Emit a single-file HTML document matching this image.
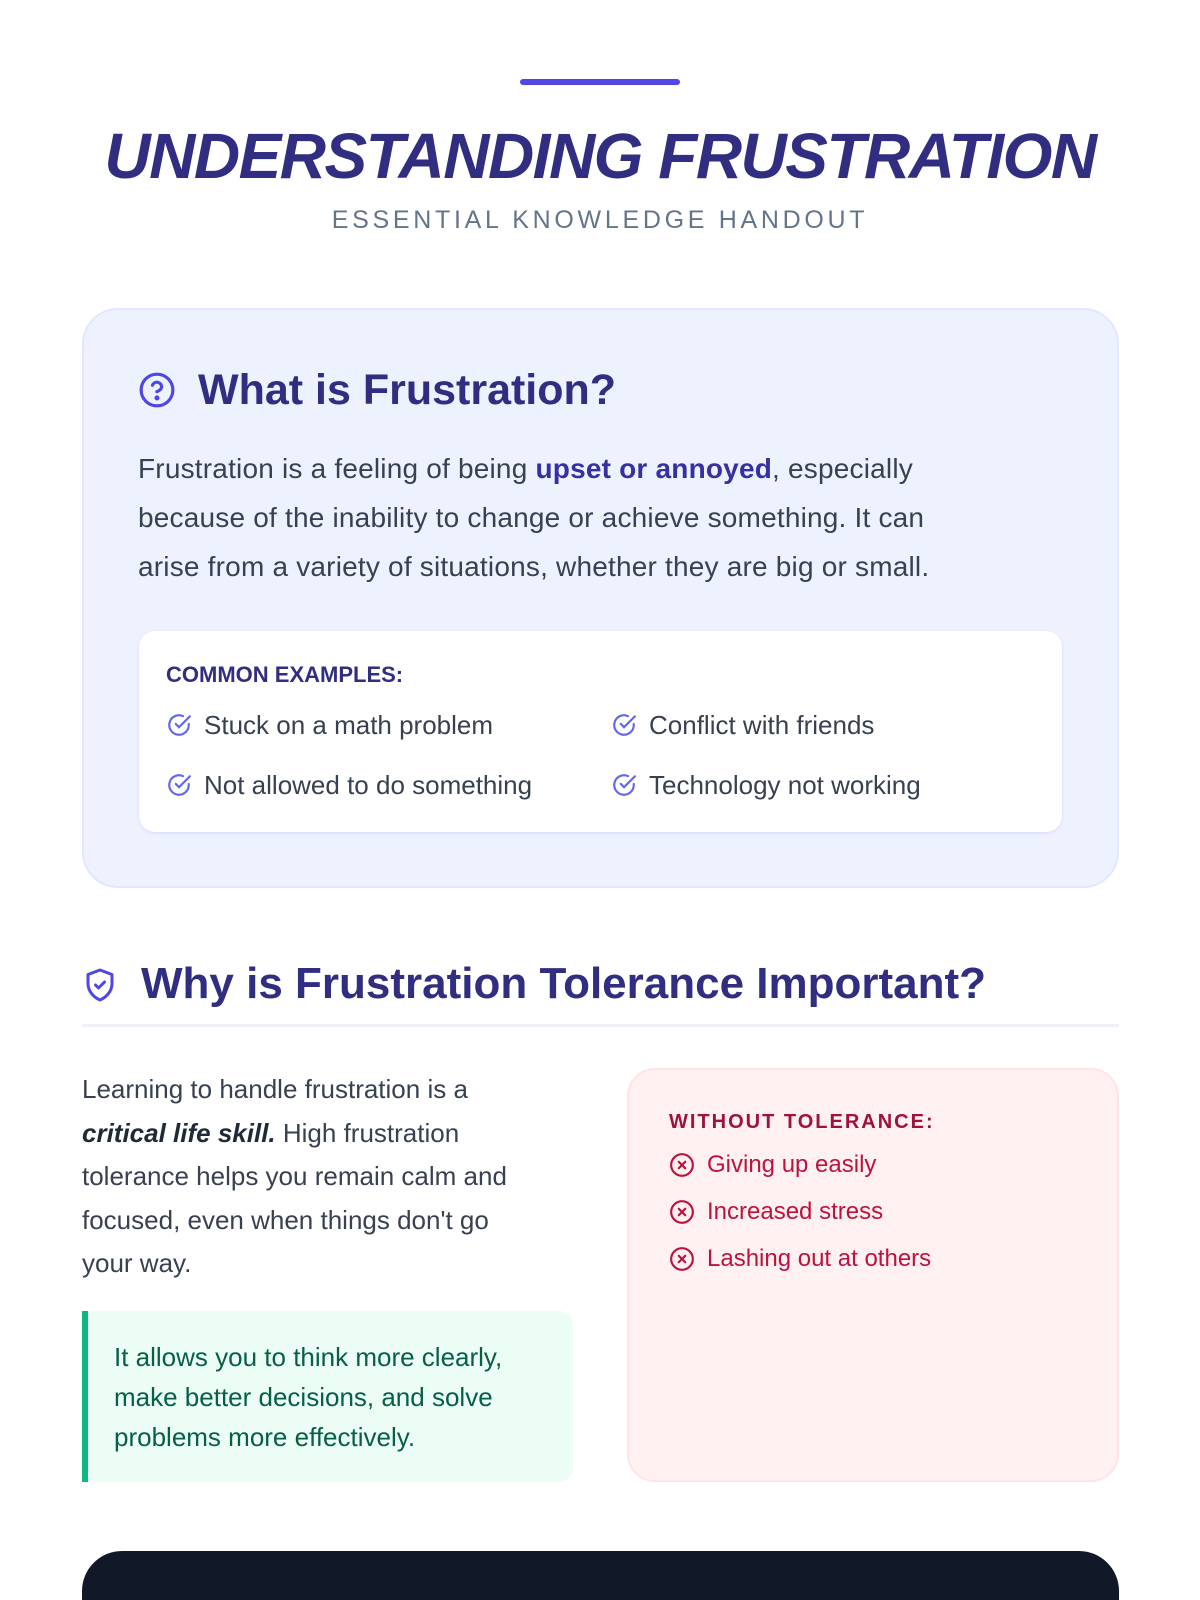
<!DOCTYPE html>
<html><head><meta charset="utf-8"><style>
*{margin:0;padding:0;box-sizing:border-box}
html,body{width:1200px;height:1600px;overflow:hidden}
body{background:#fff;font-family:"Liberation Sans",sans-serif;position:relative}
.a{position:absolute}
.bar{left:520px;top:79px;width:160px;height:6px;border-radius:3px;background:#4f46e5}
.title{left:0;width:1200px;top:118px;text-align:center;font-size:64px;font-weight:bold;font-style:italic;color:#312e81;letter-spacing:-1.5px;line-height:76px}
.sub{left:0;width:1200px;top:205px;text-align:center;font-size:25px;letter-spacing:3.7px;color:#64748b;line-height:30px}
.card{left:82px;top:308px;width:1037px;height:580px;border-radius:36px;background:#eef2ff;border:2px solid #e0e7ff}
.h2{font-weight:bold;color:#312e81}
.p{font-size:28px;color:#374151;line-height:49px;letter-spacing:0.2px}
.white{left:139px;top:631px;width:923px;height:201px;background:#fff;border-radius:16px;box-shadow:0 1px 3px rgba(79,70,229,.15)}
.item{font-size:26px;color:#374151;line-height:30px;display:flex;align-items:center}
.item svg{margin-right:12px}
</style></head><body>
<div class="a bar"></div>
<div class="a title">UNDERSTANDING FRUSTRATION</div>
<div class="a sub">ESSENTIAL KNOWLEDGE HANDOUT</div>

<div class="a card"></div>
<svg class="a" style="left:138px;top:371px" width="38" height="38" viewBox="0 0 24 24" fill="none" stroke="#4f46e5" stroke-width="2" stroke-linecap="round"><circle cx="12" cy="12" r="10"/><path d="M9.1 9a3 3 0 0 1 5.8 1c0 2-3 3-3 3"/><circle cx="12" cy="17" r=".6" fill="#4f46e5"/></svg>
<div class="a h2" style="left:198px;top:365px;font-size:43px;line-height:50px">What is Frustration?</div>
<div class="a p" style="left:138px;top:444px;width:830px">Frustration is a feeling of being <b style="color:#3730a3">upset or annoyed</b>, especially because of the inability to change or achieve something. It can arise from a variety of situations, whether they are big or small.</div>
<div class="a white"></div>
<div class="a h2" style="left:166px;top:662px;font-size:22px;line-height:26px">COMMON EXAMPLES:</div>
<div class="a item" style="left:166px;top:710px"><svg width="26" height="26" viewBox="0 0 24 24" fill="none" stroke="#6366f1" stroke-width="2" stroke-linecap="round"><path d="M21 11v1a9 9 0 1 1-5.3-8.2"/><path d="M22 4 12 14l-3-3"/></svg>Stuck on a math problem</div>
<div class="a item" style="left:611px;top:710px"><svg width="26" height="26" viewBox="0 0 24 24" fill="none" stroke="#6366f1" stroke-width="2" stroke-linecap="round"><path d="M21 11v1a9 9 0 1 1-5.3-8.2"/><path d="M22 4 12 14l-3-3"/></svg>Conflict with friends</div>
<div class="a item" style="left:166px;top:770px"><svg width="26" height="26" viewBox="0 0 24 24" fill="none" stroke="#6366f1" stroke-width="2" stroke-linecap="round"><path d="M21 11v1a9 9 0 1 1-5.3-8.2"/><path d="M22 4 12 14l-3-3"/></svg>Not allowed to do something</div>
<div class="a item" style="left:611px;top:770px"><svg width="26" height="26" viewBox="0 0 24 24" fill="none" stroke="#6366f1" stroke-width="2" stroke-linecap="round"><path d="M21 11v1a9 9 0 1 1-5.3-8.2"/><path d="M22 4 12 14l-3-3"/></svg>Technology not working</div>

<svg class="a" style="left:82px;top:966px" width="36" height="38" viewBox="0 0 24 24" fill="none" stroke="#4f46e5" stroke-width="2" stroke-linecap="round" stroke-linejoin="round"><path d="M12 2 4 5v6c0 5 3.5 9 8 11 4.5-2 8-6 8-11V5z"/><path d="m9 12 2 2 4-4"/></svg>
<div class="a h2" style="left:141px;top:958px;font-size:44px;line-height:52px">Why is Frustration Tolerance Important?</div>
<div class="a" style="left:82px;top:1024px;width:1037px;height:3px;background:#eef2f7"></div>

<div class="a" style="left:82px;top:1068px;width:460px;font-size:26px;line-height:43.5px;color:#374151">Learning to handle frustration is a <b><i style="color:#1f2937">critical life skill.</i></b> High frustration tolerance helps you remain calm and focused, even when things don't go your way.</div>
<div class="a" style="left:82px;top:1311px;width:491px;height:171px;background:#ecfdf5;border-left:6px solid #10b981;border-radius:0 14px 14px 0"></div>
<div class="a" style="left:114px;top:1337px;width:440px;font-size:26px;line-height:40px;color:#065f46">It allows you to think more clearly, make better decisions, and solve problems more effectively.</div>

<div class="a" style="left:627px;top:1068px;width:492px;height:414px;background:#fff1f2;border:2px solid #ffe4e6;border-radius:28px"></div>
<div class="a" style="left:669px;top:1110px;font-size:20px;font-weight:bold;letter-spacing:2px;color:#9f1239;line-height:24px">WITHOUT TOLERANCE:</div>
<div class="a item" style="left:669px;top:1150px;font-size:24px;color:#be123c"><svg width="26" height="26" viewBox="0 0 24 24" fill="none" stroke="#be123c" stroke-width="2" stroke-linecap="round"><circle cx="12" cy="12" r="10"/><path d="m15 9-6 6M9 9l6 6"/></svg>Giving up easily</div>
<div class="a item" style="left:669px;top:1197px;font-size:24px;color:#be123c"><svg width="26" height="26" viewBox="0 0 24 24" fill="none" stroke="#be123c" stroke-width="2" stroke-linecap="round"><circle cx="12" cy="12" r="10"/><path d="m15 9-6 6M9 9l6 6"/></svg>Increased stress</div>
<div class="a item" style="left:669px;top:1244px;font-size:24px;color:#be123c"><svg width="26" height="26" viewBox="0 0 24 24" fill="none" stroke="#be123c" stroke-width="2" stroke-linecap="round"><circle cx="12" cy="12" r="10"/><path d="m15 9-6 6M9 9l6 6"/></svg>Lashing out at others</div>

<div class="a" style="left:82px;top:1551px;width:1037px;height:49px;background:#111827;border-radius:40px 40px 0 0"></div>
</body></html>
